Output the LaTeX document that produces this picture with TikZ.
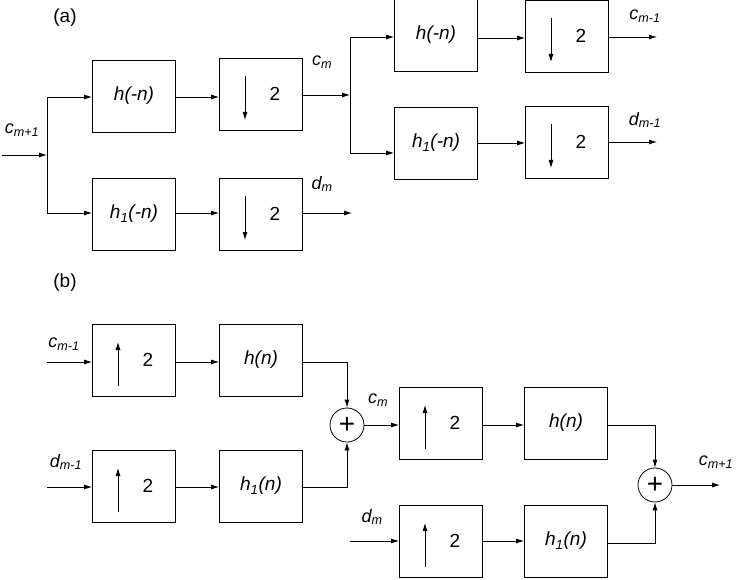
\documentclass[tikz,border=0pt]{standalone}
\usepackage{fontspec}
\setmainfont{Liberation Sans}
\usetikzlibrary{arrows.meta}
\begin{document}
\begin{tikzpicture}[x=1pt,y=-1pt,
  every node/.style={font=\fontsize{19}{22}\selectfont},
  blk/.style={draw,thick,minimum width=83pt,minimum height=72pt,inner sep=0pt},
  ar/.style={thick,-{Latex[length=8pt,width=5pt]}},
  sm/.style={font=\fontsize{18}{20}\selectfont\itshape},
  sumc/.style={draw,thick,circle,minimum size=34pt,inner sep=0pt,font=\fontsize{28}{28}\selectfont}]
\useasboundingbox (0,0) rectangle (738,580);
\newcommand{\sub}[1]{\textsubscript{#1}}
\newcommand{\dn}[1]{\draw[ar] ([xshift=-16pt,yshift=18pt]#1.center) -- ([xshift=-16pt,yshift=-26pt]#1.center); \node at ([xshift=14pt]#1.center) {2};}
\newcommand{\up}[1]{\draw[ar] ([xshift=-16pt,yshift=-26pt]#1.center) -- ([xshift=-16pt,yshift=18pt]#1.center); \node at ([xshift=14pt]#1.center) {2};}
\tikzset{every path/.append style={thick}}
% (a)
\node at (65,18) {(a)};
\coordinate (in) at (2,155); \coordinate (j1) at (47,155);
\coordinate (j1t) at (47,97); \coordinate (j1b) at (47,213);
\node[blk] (a1) at (134,96) {\itshape h(-n)};
\node[blk] (a2) at (261,94) {};
\node[blk] (a3) at (134,214) {\itshape h\sub{1}(-n)};
\node[blk] (a4) at (261,214) {};
\dn{a2}\dn{a4}
\draw[ar] (in) -- (j1);
\draw (j1t) -- (j1b);
\draw[ar] (j1t) -- (a1.west |- j1t);
\draw[ar] (j1b) -- (a3.west |- j1b);
\draw[ar] (a1.east |- 0,97) -- (a2.west |- 0,97);
\draw[ar] (a3.east |- 0,213) -- (a4.west |- 0,213);
\node[sm] at (22,130) {c\sub{m+1}};
\coordinate (j2) at (350,95);
\draw[ar] (a2.east |- j2) -- (j2);
\node[sm] at (322,62) {c\sub{m}};
\draw[ar] (a4.east |- 0,213) -- (352,213);
\node[sm] at (322,184) {d\sub{m}};
\node[blk] (a5) at (436,35) {\itshape h(-n)};
\node[blk] (a6) at (567,36) {};
\node[blk] (a7) at (436,143) {\itshape h\sub{1}(-n)};
\node[blk] (a8) at (567,142) {};
\dn{a6}\dn{a8}
\coordinate (j2t) at (350,37); \coordinate (j2b) at (350,153);
\draw (j2t) -- (j2b);
\draw[ar] (j2t) -- (a5.west |- j2t);
\draw[ar] (j2b) -- (a7.west |- j2b);
\draw[ar] (a5.east |- 0,38) -- (a6.west |- 0,38);
\draw[ar] (a7.east |- 0,143) -- (a8.west |- 0,143);
\draw[ar] (a6.east |- 0,37) -- (657,37);
\draw[ar] (a8.east |- 0,142) -- (657,142);
\node[sm] at (645,16) {c\sub{m-1}};
\node[sm] at (645,120) {d\sub{m-1}};
% (b)
\node at (65,283) {(b)};
\node[blk] (b1) at (134,360) {};
\node[blk] (b2) at (261,360) {\itshape h(n)};
\node[blk] (b3) at (134,486) {};
\node[blk] (b4) at (261,486) {\itshape h\sub{1}(n)};
\up{b1}\up{b3}
\node[sumc] (s1) at (347,425) {+};
\draw[ar] (47,362) -- (b1.west |- 0,362);
\draw[ar] (47,487) -- (b3.west |- 0,487);
\draw[ar] (b1.east |- 0,362) -- (b2.west |- 0,362);
\draw[ar] (b3.east |- 0,487) -- (b4.west |- 0,487);
\draw[ar] (b2.east |- 0,362) -| (s1.north);
\draw[ar] (b4.east |- 0,487) -| (s1.south);
\node[sm] at (64,344) {c\sub{m-1}};
\node[sm] at (66,462) {d\sub{m-1}};
\node[blk] (b5) at (441,423) {};
\node[blk] (b6) at (566,423) {\itshape h(n)};
\node[blk] (b7) at (441,541) {};
\node[blk] (b8) at (566,541) {\itshape h\sub{1}(n)};
\up{b5}\up{b7}
\node[sumc] (s2) at (655,485) {+};
\draw[ar] (s1.east) -- (b5.west |- s1.east);
\node[sm] at (378,400) {c\sub{m}};
\draw[ar] (b5.east |- 0,425) -- (b6.west |- 0,425);
\draw[ar] (350,541) -- (b7.west |- 0,541);
\node[sm] at (372,517) {d\sub{m}};
\draw[ar] (b7.east |- 0,541) -- (b8.west |- 0,541);
\draw[ar] (b6.east |- 0,425) -| (s2.north);
\draw[ar] (b8.east |- 0,543) -| (s2.south);
\draw[ar] (s2.east) -- (720,485);
\node[sm] at (716,462) {c\sub{m+1}};
\end{tikzpicture}
\end{document}
